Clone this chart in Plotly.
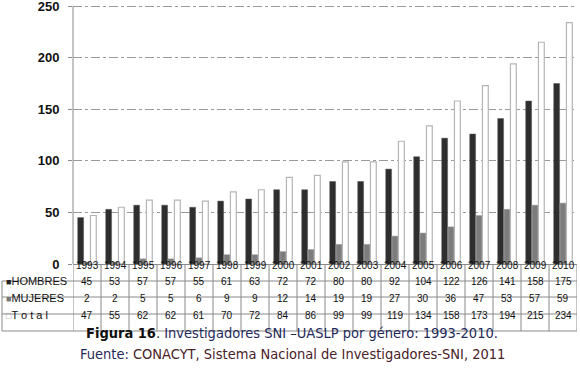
import plotly.graph_objects as go

years = ["1993","1994","1995","1996","1997","1998","1999","2000","2001","2002",
         "2003","2004","2005","2006","2007","2008","2009","2010"]
hombres = [45,53,57,57,55,61,63,72,72,80,80,92,104,122,126,141,158,175]
mujeres = [2,2,5,5,6,9,9,12,14,19,19,27,30,36,47,53,57,59]
total = [47,55,62,62,61,70,72,84,86,99,99,119,134,158,173,194,215,234]
row_labels = ["■HOMBRES", "■MUJERES", "□T o t a l"]
yticks = [0, 50, 100, 150, 200, 250]

PT, PB = 2, 264  # plot area top/bottom in px
YMAX = 254
H = PB - PT
def py(p):
    return (PB - p) / H

fig = go.Figure()
fig.add_bar(x=years, y=hombres, name="HOMBRES",
            marker=dict(color="#2e2e2e", line=dict(color="#555", width=0.5)))
fig.add_bar(x=years, y=mujeres, name="MUJERES",
            marker=dict(color="#7c7c7c", line=dict(color="#999", width=0.5)))
fig.add_bar(x=years, y=total, name="Total",
            marker=dict(color="white", line=dict(color="#b5b5b5", width=1.2)))

shapes = []
ann = []
line_col = "#8a8a8a"
n = len(years)
LX = (2 - 73) / 504
row_lines = [281, 297, 314, 331]
for yy in row_lines:
    shapes.append(dict(type="line", xref="paper", yref="paper",
                       x0=LX, x1=1, y0=py(yy), y1=py(yy),
                       line=dict(color=line_col, width=1)))
for k in range(n + 1):
    shapes.append(dict(type="line", xref="x", yref="paper",
                       x0=k - 0.5, x1=k - 0.5, y0=py(264), y1=py(331),
                       line=dict(color=line_col, width=1)))
shapes.append(dict(type="line", xref="paper", yref="paper",
                   x0=LX, x1=LX, y0=py(281), y1=py(331),
                   line=dict(color=line_col, width=1)))
# y axis line only up to the top tick level
shapes.append(dict(type="line", xref="paper", yref="y",
                   x0=0, x1=0, y0=0, y1=yticks[-1],
                   line=dict(color=line_col, width=1)))

FAM = "Liberation Sans"
tfont = dict(family=FAM, size=10, color="#111")
row_centers = [272.5, 289, 305.5, 322.5]
for j, yr in enumerate(years):
    ann.append(dict(x=j, y=py(row_centers[0]), xref="x", yref="paper",
                    text=yr, showarrow=False, font=tfont))
    for r, series in enumerate([hombres, mujeres, total]):
        ann.append(dict(x=j, y=py(row_centers[r + 1]), xref="x", yref="paper",
                        text=str(series[j]), showarrow=False, font=tfont))
sq_cols = ["#222", "#777", "#999"]
for r, lab in enumerate(row_labels):
    ann.append(dict(x=(4 - 73) / 504, y=py(row_centers[r + 1]), xref="paper", yref="paper",
                    xanchor="left", showarrow=False,
                    text=f"<span style='color:{sq_cols[r]};font-size:9px'>{lab[0]}</span>{lab[1:]}",
                    font=dict(family=FAM, size=11, color="#111")))

cap_font = dict(family="DejaVu Sans Condensed, Roboto", size=14.5, color="#1f2b5a")
ann.append(dict(x=(292 - 73) / 504, y=py(343), xref="paper", yref="paper", showarrow=False,
                text="<b><span style='color:#111'>Figura 16</span></b>. Investigadores SNI –UASLP por género: 1993-2010.",
                font=cap_font))
ann.append(dict(x=(292 - 73) / 504, y=py(364), xref="paper", yref="paper", showarrow=False,
                text="Fuente: <span style='color:#4a2228'>CONACYT, Sistema Nacional de Investigadores-SNI, 2011</span>",
                font=cap_font))

fig.update_layout(
    width=580, height=374,
    margin=dict(l=73, r=3, t=PT, b=374 - PB, pad=0, autoexpand=False),
    plot_bgcolor="white", paper_bgcolor="white",
    barmode="group", bargap=0.32, bargroupgap=0.08,
    showlegend=False,
    shapes=shapes, annotations=ann,
    xaxis=dict(type="category", range=[-0.5, n - 0.5], showticklabels=False,
               showgrid=False, showline=True, linecolor=line_col, ticks="", zeroline=False,
               automargin=False),
    yaxis=dict(range=[0, YMAX], tickvals=yticks, showgrid=True, gridcolor="#9a9a9a",
               griddash="dashdot", gridwidth=1, showline=False,
               ticks="outside", ticklen=4, tickcolor=line_col, zeroline=False,
               tickfont=dict(family=FAM, size=13, color="#111", weight="bold"),
               ticklabelstandoff=6, ticklabeloverflow="allow", automargin=False),
    font=dict(family=FAM),
)

fig.write_html("out.html", config={"displayModeBar": False},
               post_script="document.body.style.margin='0px';")
